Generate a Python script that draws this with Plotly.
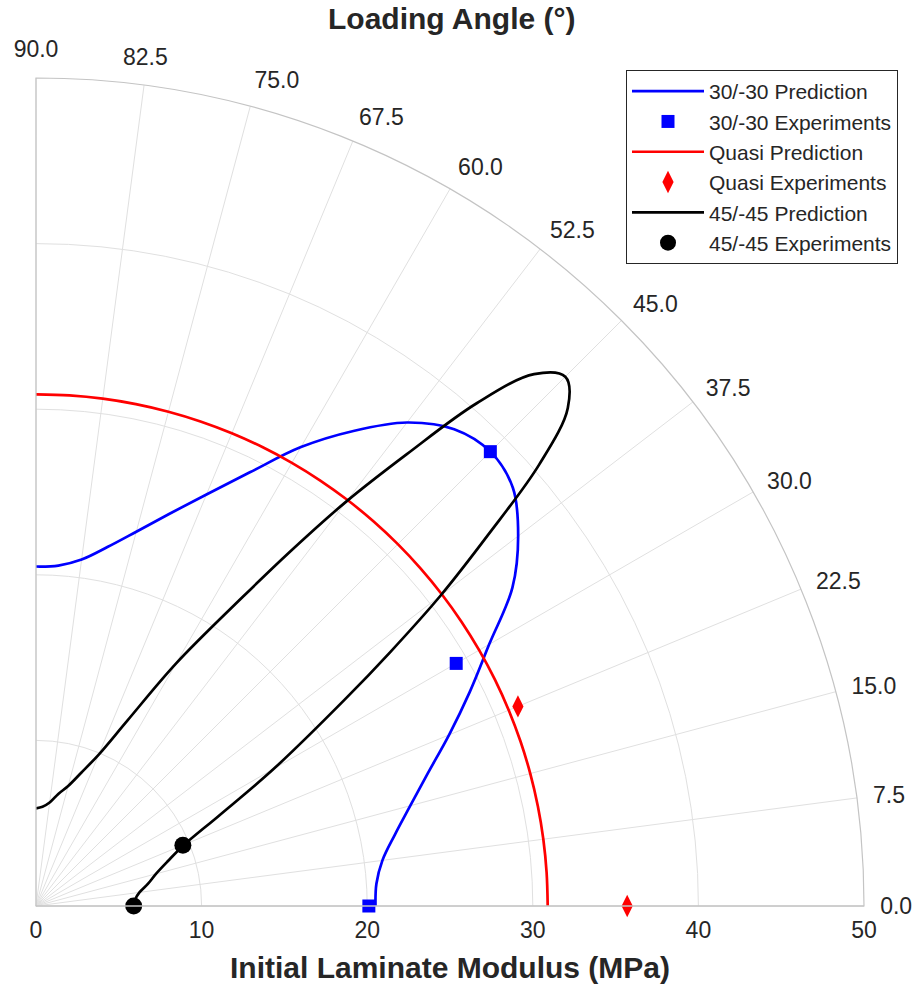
import plotly.graph_objects as go

# ---------------- data ----------------
angle_ticks = [0, 7.5, 15, 22.5, 30, 37.5, 45, 52.5, 60, 67.5, 75, 82.5, 90]
angle_ticktext = ["0.0", "7.5", "15.0", "22.5", "30.0", "37.5", "45.0",
                  "52.5", "60.0", "67.5", "75.0", "", "90.0"]
label_825 = "82.5"
radial_ticks = [0, 10, 20, 30, 40, 50]

# 30/-30 prediction
theta_3030 = [0, 3.75, 7.5, 11.25, 15, 18.75, 22.5, 26.25, 30, 33.75, 37.5, 41.25, 45,
              48.75, 52.5, 56.25, 60, 63.75, 67.5, 71.25, 75, 78.75, 82.5, 86.25, 90]
r_3030 = [20.5, 20.6, 21.1, 22.1, 23.4, 25.0, 27.0, 29.2, 31.6, 34.6, 36.7, 38.3, 38.8,
          38.3, 36.8, 34.5, 32.0, 29.2, 26.9, 25.0, 23.4, 22.1, 21.1, 20.6, 20.5]
# 30/-30 experiments
theta_3030_exp = [0, 30, 45]
r_3030_exp = [20.1, 29.3, 38.8]

# Quasi prediction
theta_quasi = [0, 3.75, 7.5, 11.25, 15, 18.75, 22.5, 26.25, 30, 33.75, 37.5, 41.25, 45,
               48.75, 52.5, 56.25, 60, 63.75, 67.5, 71.25, 75, 78.75, 82.5, 86.25, 90]
r_quasi = [30.9, 30.9, 30.9, 30.9, 30.9, 30.9, 30.9, 30.9, 30.9, 30.9, 30.9, 30.9, 30.9,
           30.9, 30.9, 30.9, 30.9, 30.9, 30.9, 30.9, 30.9, 30.9, 30.9, 30.9, 30.9]
# Quasi experiments
theta_quasi_exp = [0, 22.5]
r_quasi_exp = [35.7, 31.5]

# 45/-45 prediction
theta_4545 = [0, 3.75, 7.5, 11.25, 15, 18.75, 22.5, 26.25, 30, 33.75, 35.625, 37.5, 39.375,
              41.25, 43.125, 45, 46.875, 48.75, 50.625, 52.5, 54.375, 56.25, 60, 63.75,
              67.5, 71.25, 75, 78.75, 82.5, 86.25, 90]
r_4545 = [5.9, 6.0, 6.3, 6.9, 7.5, 8.4, 9.7, 12.3, 16.6, 22.4, 26.3, 30.8, 35.3,
          40.4, 44.0, 45.2, 44.0, 40.4, 35.3, 30.8, 26.3, 22.4, 16.9, 12.5,
          9.9, 8.5, 7.5, 6.9, 6.3, 6.0, 5.9]
# 45/-45 experiments
theta_4545_exp = [0, 22.5]
r_4545_exp = [5.9, 9.6]

# ---------------- figure ----------------
FONT = "Liberation Sans, Arial, Helvetica, sans-serif"
TXT = "#262626"

fig = go.Figure()
fig.add_trace(go.Scatterpolar(theta=theta_3030, r=r_3030, mode="lines",
                              line=dict(color="#0000FF", width=2.7, shape="spline"),
                              name="30/-30 Prediction"))
fig.add_trace(go.Scatterpolar(theta=theta_3030_exp, r=r_3030_exp, mode="markers",
                              marker=dict(symbol="square", size=13, color="#0000FF"),
                              cliponaxis=False, name="30/-30 Experiments"))
fig.add_trace(go.Scatterpolar(theta=theta_quasi, r=r_quasi, mode="lines",
                              line=dict(color="#FF0000", width=2.7, shape="spline"),
                              name="Quasi Prediction"))
fig.add_trace(go.Scatterpolar(theta=theta_quasi_exp, r=r_quasi_exp, mode="markers",
                              marker=dict(symbol="diamond-tall", size=16, color="#FF0000"),
                              cliponaxis=False, name="Quasi Experiments"))
fig.add_trace(go.Scatterpolar(theta=theta_4545, r=r_4545, mode="lines",
                              line=dict(color="#000000", width=2.7, shape="spline"),
                              name="45/-45 Prediction"))
fig.add_trace(go.Scatterpolar(theta=theta_4545_exp, r=r_4545_exp, mode="markers",
                              marker=dict(symbol="circle", size=17, color="#000000"),
                              cliponaxis=False, name="45/-45 Experiments"))

W, H = 913, 984
L, R, T, B = 36, 49, 78, 78
PW, PH = W - L - R, H - T - B


def px(x):
    return (x - L) / PW


def py(y):
    return (H - B - y) / PH


fig.update_layout(
    width=W, height=H,
    margin=dict(l=L, r=R, t=T, b=B, pad=0),
    paper_bgcolor="white",
    font=dict(family=FONT, color=TXT, size=22),
    polar=dict(
        domain=dict(x=[0, 1], y=[0, 1]),
        sector=[0, 90],
        bgcolor="white",
        angularaxis=dict(
            direction="counterclockwise", rotation=0, thetaunit="degrees",
            tickmode="array", tickvals=angle_ticks, ticktext=angle_ticktext,
            showline=True, linecolor="#c4c4c4", linewidth=1.2,
            showgrid=True, gridcolor="#e0e0e0", gridwidth=1,
            ticks="outside", ticklen=11, tickcolor="rgba(0,0,0,0)",
            tickfont=dict(size=23, color=TXT, family=FONT),
        ),
        radialaxis=dict(
            range=[0, 50], tickmode="array", tickvals=radial_ticks,
            ticktext=[str(v) for v in radial_ticks],
            angle=0, side="clockwise", tickangle=0,
            showline=True, linecolor="#c4c4c4", linewidth=1.2,
            showgrid=True, gridcolor="#e0e0e0", gridwidth=1,
            ticks="outside", ticklen=4, tickcolor="rgba(0,0,0,0)",
            tickfont=dict(size=23, color=TXT, family=FONT),
        ),
    ),
    legend=dict(
        x=px(898), y=py(70), xanchor="right", yanchor="top",
        bgcolor="white", bordercolor="#262626", borderwidth=1,
        font=dict(size=21, color=TXT, family=FONT),
        tracegroupgap=0, itemwidth=72,
    ),
    showlegend=True,
    annotations=[
        dict(text="<b>Loading Angle (°)</b>", x=px(452), y=py(19), xref="paper", yref="paper",
             xanchor="center", yanchor="middle", showarrow=False,
             font=dict(size=30, color=TXT, family=FONT)),
        dict(text="<b>Initial Laminate Modulus (MPa)</b>", x=px(450), y=py(967), xref="paper",
             yref="paper", xanchor="center", yanchor="middle", showarrow=False,
             font=dict(size=30, color=TXT, family=FONT)),
        dict(text=label_825, x=px(145), y=py(57), xref="paper", yref="paper",
             xanchor="center", yanchor="middle", showarrow=False,
             font=dict(size=23, color=TXT, family=FONT)),
    ],
)

fig.write_html("out.html")
